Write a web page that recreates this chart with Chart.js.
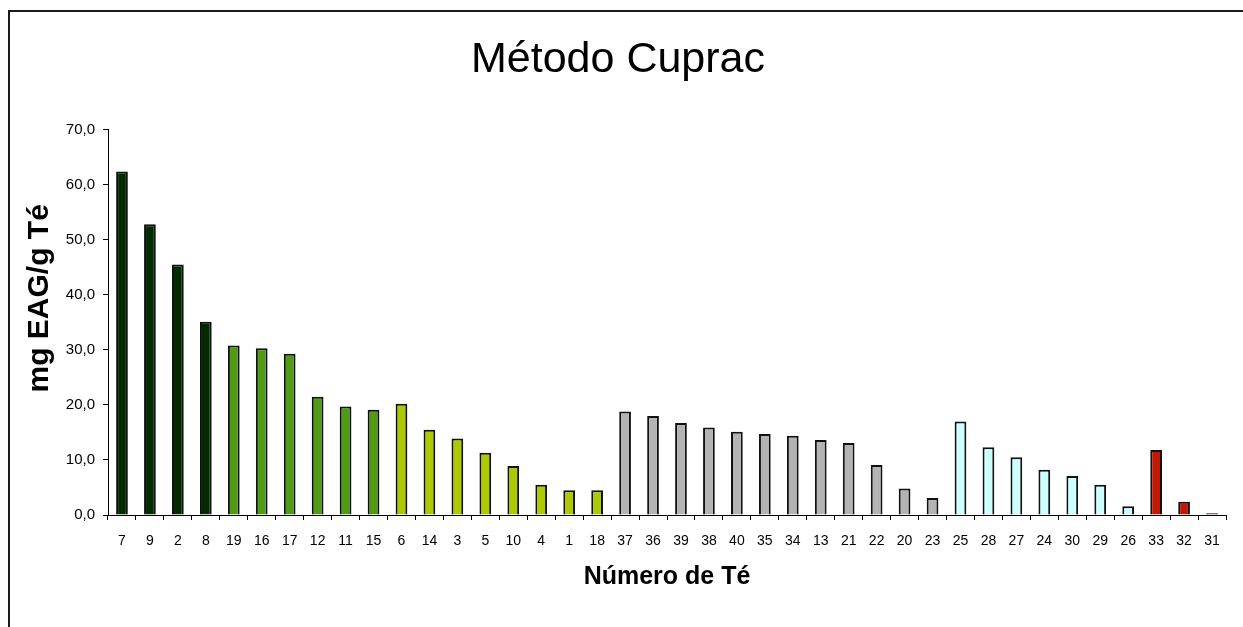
<!DOCTYPE html>
<html>
<head>
<meta charset="utf-8">
<title>Método Cuprac</title>
<script src="https://cdn.jsdelivr.net/npm/chart.js@4.4.1/dist/chart.umd.min.js"></script>
<style>
  html, body { margin: 0; padding: 0; background: #fff; }
  canvas { display: block; }
</style>
</head>
<body>
<canvas id="chart" width="1243" height="627"></canvas>
<script>
// Tea samples, sorted within each group
const categories = ['7','9','2','8','19','16','17','12','11','15','6','14','3','5','10','4','1','18',
  '37','36','39','38','40','35','34','13','21','22','20','23','25','28','27','24','30','29','26','33','32','31'];

// mg gallic-acid equivalents per g of tea
const values = [62.4, 52.8, 45.5, 35.1, 30.8, 30.3, 29.3, 21.5, 19.7, 19.1, 20.2, 15.5, 13.9, 11.3, 8.9, 5.5, 4.5, 4.5,
  18.8, 18.0, 16.7, 15.9, 15.1, 14.7, 14.4, 13.6, 13.1, 9.1, 4.8, 3.1, 17.0, 12.3, 10.5, 8.2, 7.1, 5.5, 1.6, 11.8, 2.4, 0.3];

// how many consecutive bars belong to each tea group, and the group colours
const groupSizes = [4, 6, 8, 12, 7, 3];
const groupColors = ['#002c00', '#4f9b13', '#adc900', '#b3b3b3', '#ccffff', '#c21a00'];

const yTicks = [0, 10, 20, 30, 40, 50, 60, 70];
const yTitle = 'mg EAG/g Té';

const barColors = [];
groupSizes.forEach((n, g) => { for (let i = 0; i < n; i++) barColors.push(groupColors[g]); });

// white page with the outer frame line
const frame = {
  id: 'frame',
  beforeDraw(chart) {
    const ctx = chart.ctx;
    ctx.save();
    ctx.fillStyle = '#fff';
    ctx.fillRect(0, 0, chart.width, chart.height);
    ctx.strokeStyle = '#1a1a1a';
    ctx.lineWidth = 2;
    ctx.strokeRect(9, 11, chart.width + 20, chart.height + 20);
    ctx.restore();
  }
};

// vertical axis title, set a little above the middle of the value axis
const valueTitle = {
  id: 'valueTitle',
  afterDraw(chart) {
    const { ctx, chartArea } = chart;
    const cy = (chartArea.top + chartArea.bottom) / 2 - 24;
    ctx.save();
    ctx.translate(40, cy);
    ctx.rotate(-Math.PI / 2);
    ctx.font = 'bold 30px "Liberation Sans", Arial, sans-serif';
    ctx.fillStyle = '#000';
    ctx.textAlign = 'center';
    ctx.textBaseline = 'middle';
    ctx.fillText(yTitle, 0, 0);
    ctx.restore();
  }
};

new Chart(document.getElementById('chart'), {
  type: 'bar',
  data: {
    labels: categories,
    datasets: [{
      data: values,
      backgroundColor: barColors,
      borderColor: '#111',
      borderWidth: 2,
      barPercentage: 0.42,
      categoryPercentage: 1.0
    }]
  },
  options: {
    responsive: false,
    animation: false,
    devicePixelRatio: 1,
    layout: { padding: { top: 10, left: 10, right: 17, bottom: 0 } },
    plugins: {
      legend: { display: false },
      tooltip: { enabled: false },
      title: {
        display: true,
        text: 'Método Cuprac',
        color: '#000',
        font: { family: '"Liberation Sans", Arial, sans-serif', size: 43, weight: 'normal', lineHeight: 1.2 },
        padding: { top: 24, bottom: 44 }
      }
    },
    scales: {
      x: {
        afterFit(scale) { scale.height = 112; },
        grid: { display: true, drawOnChartArea: false, drawTicks: true, tickLength: 5, color: '#000', offset: true },
        border: { display: true, color: '#000', width: 1 },
        ticks: {
          autoSkip: false, maxRotation: 0, minRotation: 0, color: '#000', padding: 13,
          font: { family: '"Liberation Sans", Arial, sans-serif', size: 14 }
        },
        title: {
          display: true,
          text: 'Número de Té',
          color: '#000',
          font: { family: '"Liberation Sans", Arial, sans-serif', size: 25, weight: 'bold', lineHeight: 1.2 },
          padding: { top: 0, bottom: 35 }
        }
      },
      y: {
        min: 0,
        max: 70,
        afterFit(scale) { scale.width = 98; },
        afterBuildTicks(scale) { scale.ticks = yTicks.map(v => ({ value: v })); },
        grid: { display: true, drawOnChartArea: false, drawTicks: true, tickLength: 5, color: '#000' },
        border: { display: true, color: '#000', width: 1 },
        ticks: {
          color: '#000', padding: 8,
          font: { family: '"Liberation Sans", Arial, sans-serif', size: 15 },
          callback: v => v.toFixed(1).replace('.', ',')
        }
      }
    }
  },
  plugins: [frame, valueTitle]
});
</script>
</body>
</html>
